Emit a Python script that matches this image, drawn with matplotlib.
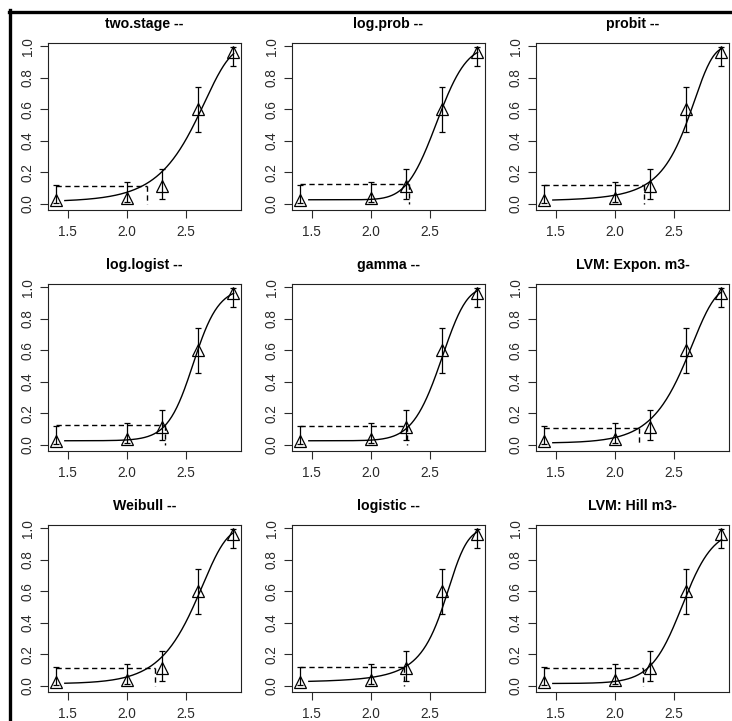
import numpy as np
import matplotlib
matplotlib.use('Agg')
import matplotlib.pyplot as plt
from matplotlib.lines import Line2D
from math import erf, factorial

plt.rcParams['font.family'] = ['Liberation Sans', 'DejaVu Sans']

# observed data (x = log10 dose)
dose_x = [1.4, 2.0, 2.3, 2.6, 2.9]
resp = [0.021, 0.036, 0.11, 0.60, 0.965]
lower = [0.004, 0.009, 0.032, 0.454, 0.872]
upper = [0.116, 0.137, 0.218, 0.739, 0.992]

titles = ['two.stage --', 'log.prob --', 'probit --',
          'log.logist --', 'gamma --', 'LVM: Expon. m3-',
          'Weibull --', 'logistic --', 'LVM: Hill m3-']

# fitted model parameters
models = [
    ('multistage', dict(g=0.01, b1=2.0e-4, b2=4.5e-6)),
    ('logprobit', dict(g=0.025, a=-12.88, b=5.04)),
    ('probit', dict(a=-2.15, b=0.0054)),
    ('loglogistic', dict(g=0.025, a=-23.79, b=9.29)),
    ('gamma', dict(g=0.025, alpha=6, beta=0.0148)),
    ('weibull', dict(g=0.01, k=452.0, n=2.2)),
    ('weibull', dict(g=0.012, k=437.0, n=2.1)),
    ('logistic', dict(a=-3.85, b=0.0095)),
    ('hill', dict(g=0.014, k=371.0, n=3.3)),
]

# BMD (x position) and BMR response level of the dashed lines
bmd_x = [2.17, 2.32, 2.243, 2.32, 2.31, 2.206, 2.237, 2.277, 2.24]
bmr_y = [0.114, 0.125, 0.118, 0.125, 0.12, 0.108, 0.113, 0.117, 0.11]


def phi(z):
    return 0.5 * (1 + np.vectorize(erf)(z / np.sqrt(2)))


def model_curve(kind, p, x):
    d = 10 ** x
    if kind == 'multistage':
        return p['g'] + (1 - p['g']) * (1 - np.exp(-p['b1'] * d - p['b2'] * d ** 2))
    if kind == 'logprobit':
        return p['g'] + (1 - p['g']) * phi(p['a'] + p['b'] * x)
    if kind == 'probit':
        return phi(p['a'] + p['b'] * d)
    if kind == 'loglogistic':
        return p['g'] + (1 - p['g']) / (1 + np.exp(-(p['a'] + p['b'] * x)))
    if kind == 'gamma':
        t = p['beta'] * d
        s = sum(t ** k / factorial(k) for k in range(p['alpha']))
        return p['g'] + (1 - p['g']) * (1 - np.exp(-t) * s)
    if kind == 'weibull':
        return p['g'] + (1 - p['g']) * (1 - np.exp(-(d / p['k']) ** p['n']))
    if kind == 'logistic':
        return 1 / (1 + np.exp(-(p['a'] + p['b'] * d)))
    if kind == 'hill':
        return p['g'] + (1 - p['g']) * d ** p['n'] / (p['k'] ** p['n'] + d ** p['n'])


W, H = 732, 721
fig = plt.figure(figsize=(W / 100, H / 100), dpi=100)

col_left = [48, 292, 536]
row_top = [43, 284, 525]
aw, ah = 193, 167

xs = np.linspace(1.477, 2.903, 200)
dash = (0, (3.8, 2.6))

for i in range(9):
    r, c = divmod(i, 3)
    ax = fig.add_axes([col_left[c] / W, 1 - (row_top[r] + ah) / H, aw / W, ah / H])
    kind, p = models[i]
    ax.plot(xs, model_curve(kind, p, xs), color='black', lw=1.0)
    yerr = [np.array(resp) - np.array(lower), np.array(upper) - np.array(resp)]
    ax.errorbar(dose_x, resp, yerr=yerr, fmt='^', mfc='none', mec='black',
                ms=8, mew=0.9, ecolor='black', elinewidth=0.9,
                capsize=2.3, capthick=0.9)
    ax.plot([dose_x[0], bmd_x[i]], [bmr_y[i], bmr_y[i]], color='black',
            lw=1.0, linestyle=dash)
    ax.plot([bmd_x[i], bmd_x[i]], [bmr_y[i], 0.0], color='black',
            lw=1.0, linestyle=dash)
    ax.set_xlim(1.335, 2.965)
    ax.set_ylim(-0.04, 1.02)
    ax.set_xticks([1.5, 2.0, 2.5])
    ax.set_xticklabels(['1.5', '2.0', '2.5'])
    ax.set_yticks([0, 0.2, 0.4, 0.6, 0.8, 1.0])
    ax.set_yticklabels(['0.0', '0.2', '0.4', '0.6', '0.8', '1.0'],
                       rotation=90, va='center')
    ax.tick_params(direction='out', length=5.5, width=0.8, labelsize=9.8,
                   colors='#2a2a2a')
    ax.tick_params(axis='x', pad=5)
    ax.tick_params(axis='y', pad=4)
    for s in ax.spines.values():
        s.set_linewidth(0.8)
        s.set_color('#222222')
    ax.set_title(titles[i], fontsize=10.2, fontweight='bold', pad=11)

# outer frame (top and left edges only are visible)
fig.add_artist(Line2D([10 / W, 10 / W], [0, 1 - 10 / H], color='black',
                      lw=2.4, transform=fig.transFigure))
fig.add_artist(Line2D([9 / W, 1], [1 - 11.5 / H, 1 - 11.5 / H], color='black',
                      lw=2.4, transform=fig.transFigure))

fig.savefig('out.png', dpi=100)
